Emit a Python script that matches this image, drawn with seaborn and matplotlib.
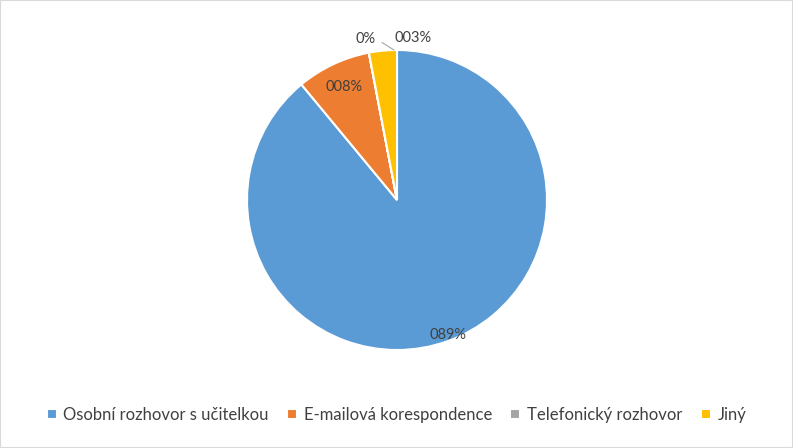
import numpy as np
import matplotlib
matplotlib.use("Agg")
from matplotlib import pyplot as plt
from matplotlib.patches import Rectangle
import seaborn as sns

#%% DATA
categories = ['Osobní rozhovor s učitelkou', 'E-mailová korespondence',
              'Telefonický rozhovor', 'Jiný']
values = [89, 8, 0.0001, 3]
pctLabels = ['089%', '008%', '0%', '003%']
colors = ['#5B9BD5', '#ED7D31', '#A5A5A5', '#FFC000']

#%% PLOT
sns.set_theme(style='white')
plt.rcParams['font.family'] = ['Lato', 'DejaVu Sans']
txtColor = '#404040'

fig = plt.figure(figsize=(7.93, 4.48), dpi=100)
fig.patches.append(Rectangle((0, 0), 1, 1, transform=fig.transFigure,
                             fill=False, edgecolor='#D9D9D9', linewidth=1.5))
ax = fig.add_axes([247/793, 98/448, 300/793, 300/448])
wedges, _ = ax.pie(values, colors=colors, startangle=90, counterclock=False,
                   wedgeprops=dict(edgecolor='white', linewidth=1.5))
ax.set_xlim(-1, 1)
ax.set_ylim(-1, 1)
ax.set_aspect('equal')
ax.axis('off')

# label placement: inside for big slices, outside for tiny ones
dists = [0.95, 0.83, 1.12, 1.12]
for w, lab, d, i in zip(wedges, pctLabels, dists, range(4)):
  ang = np.deg2rad((w.theta1 + w.theta2) / 2)
  x, y = d * np.cos(ang), d * np.sin(ang)
  if i == 0:
    x, y = 0.34, -0.9
  if i == 2:
    x, y = -0.21, 1.07
    ax.plot([-0.1, -0.02], [1.05, 1.0], color='#A6A6A6', lw=0.8, clip_on=False)
  if i == 3:
    x, y = 0.11, 1.08
  ax.text(x, y, lab, ha='center', va='center', fontsize=10.5,
          color=txtColor, clip_on=False)

fig.legend(wedges, categories, loc='center', bbox_to_anchor=(0.5, 33/448),
           ncol=4, frameon=False, fontsize=12, handlelength=0.6,
           handleheight=0.6, handletextpad=0.4, columnspacing=1.1,
           labelcolor=txtColor)

fig.savefig('out.png', dpi=100)
